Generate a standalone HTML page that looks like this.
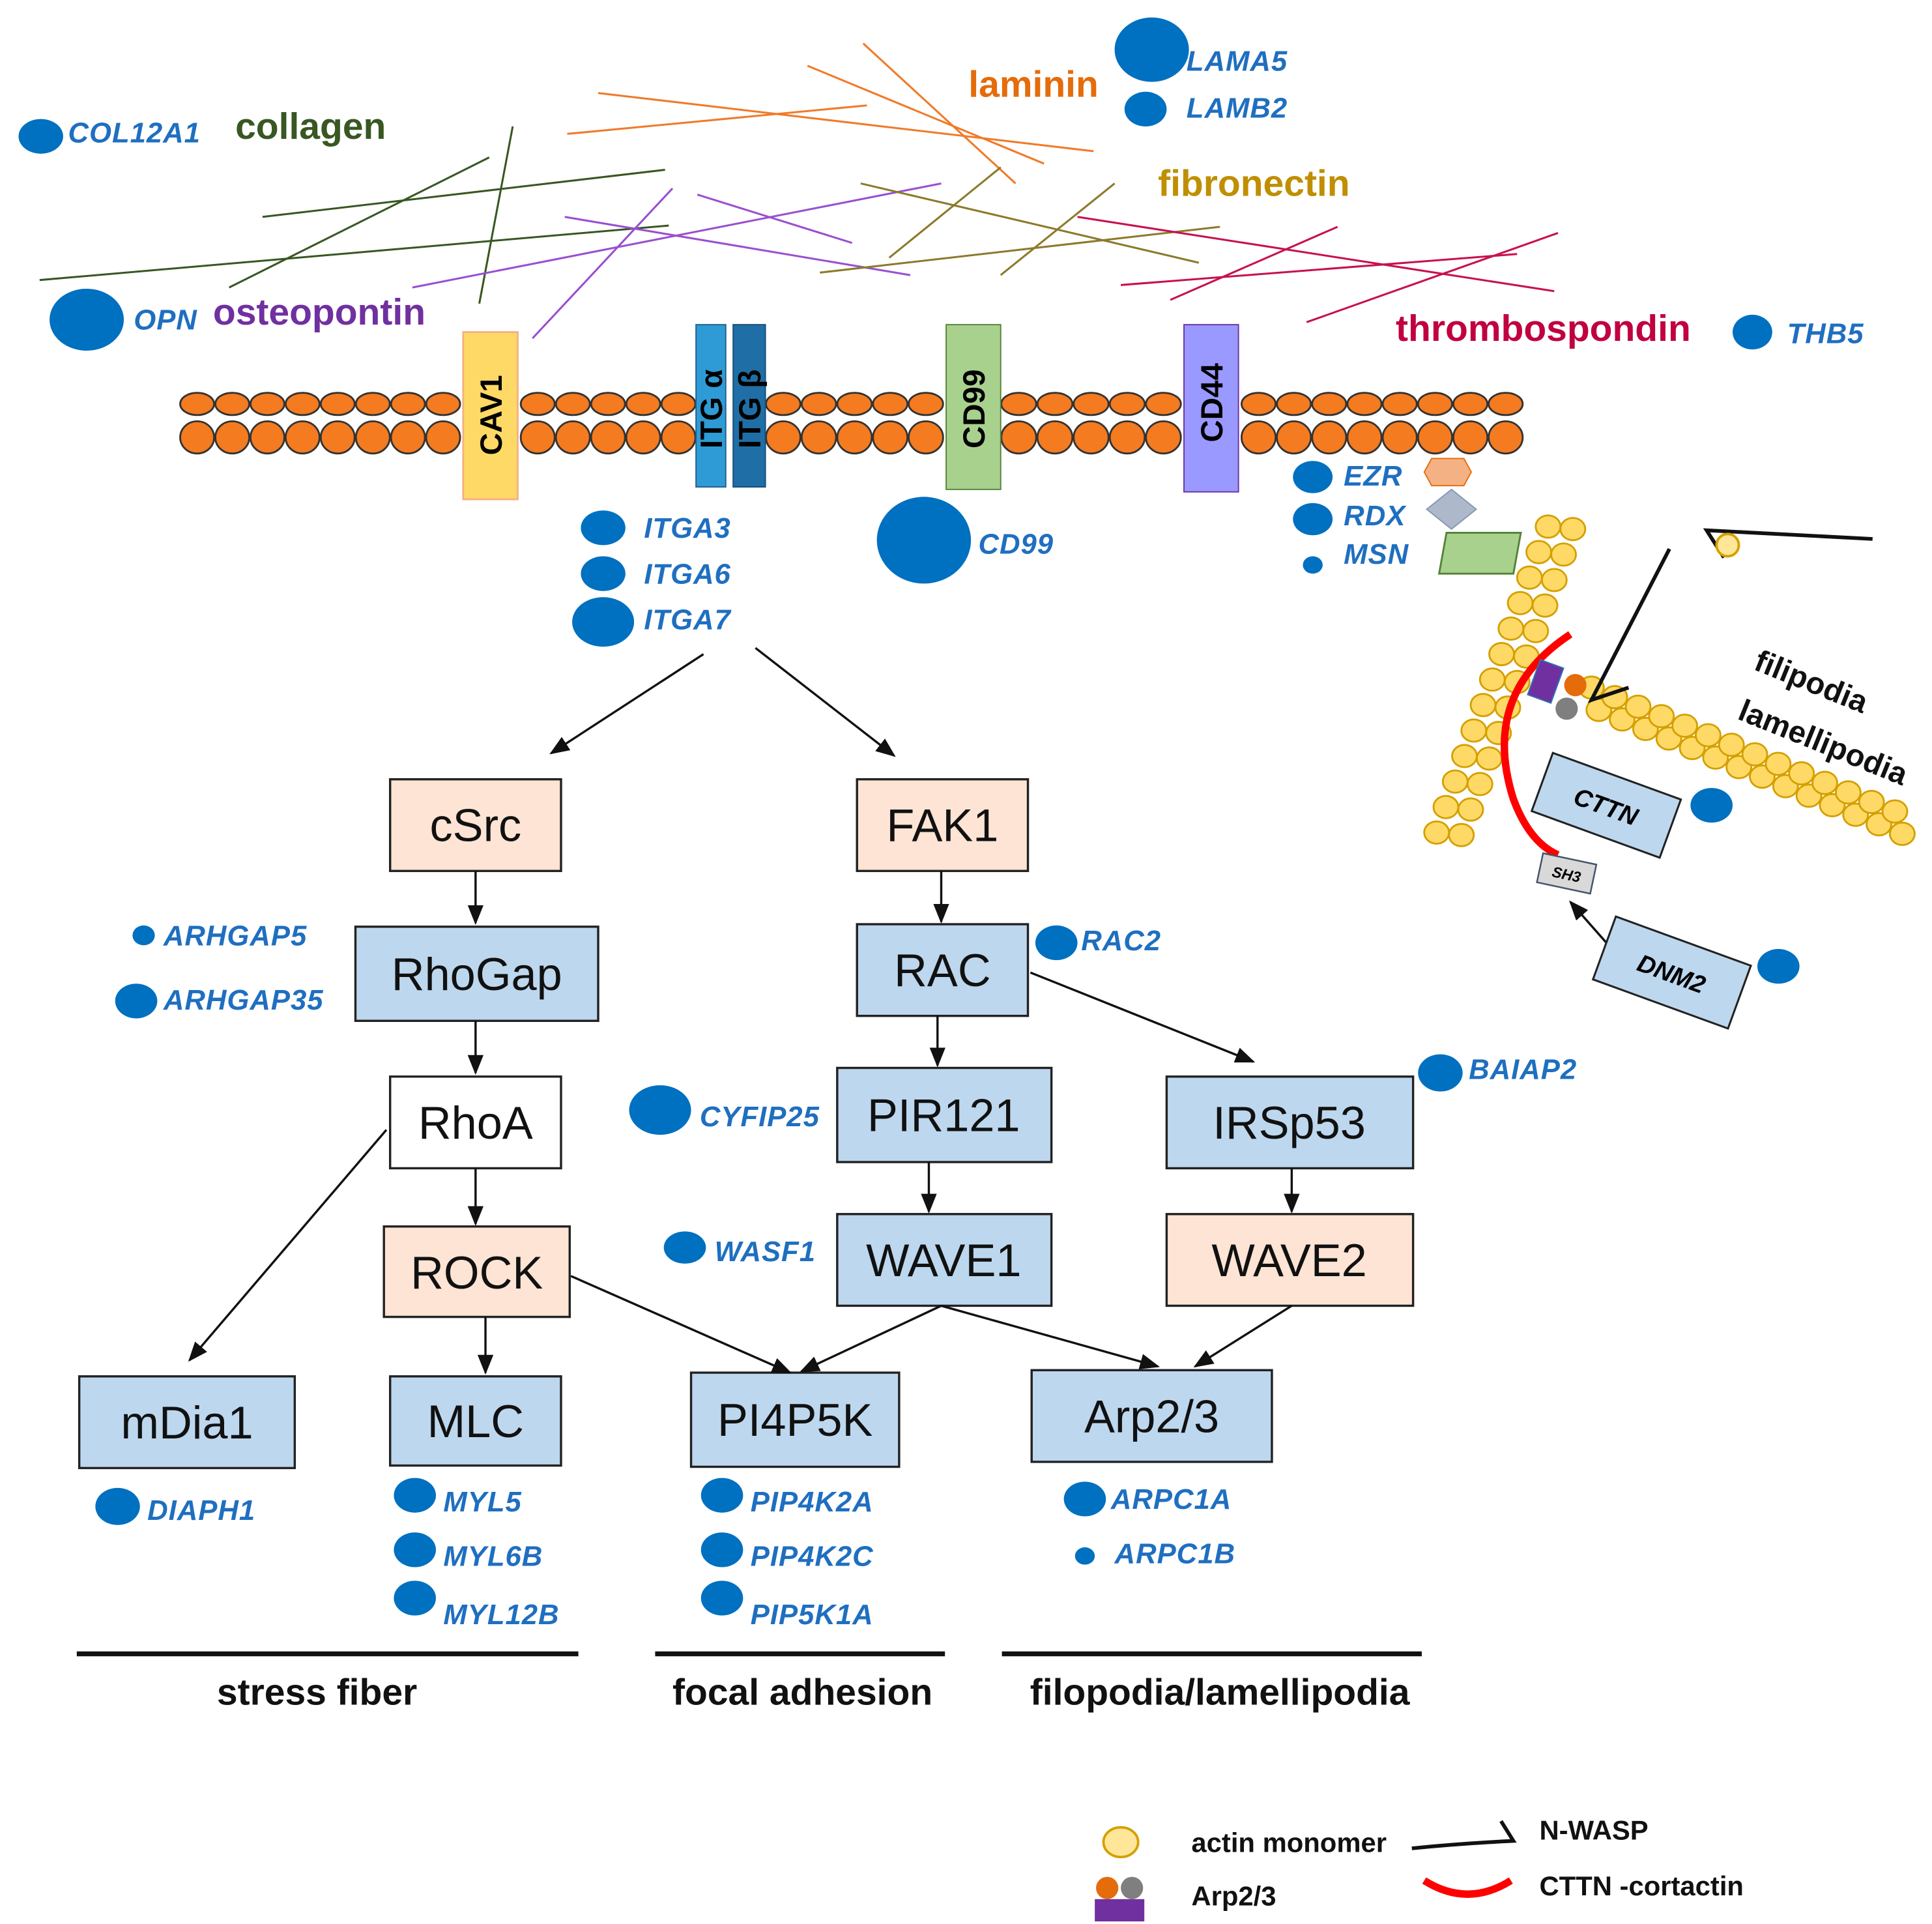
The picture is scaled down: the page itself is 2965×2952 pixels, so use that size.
<!DOCTYPE html>
<html><head><meta charset="utf-8"><style>
html,body{margin:0;padding:0;background:#fff}
svg{display:block}
.b{font-family:"Liberation Sans",sans-serif;font-size:37px;fill:#111;text-anchor:middle}
.g{font-family:"Liberation Sans",sans-serif;font-size:23px;font-style:italic;font-weight:bold;fill:#1f6fc0;letter-spacing:0.5px}
.e{font-family:"Liberation Sans",sans-serif;font-size:30px;font-weight:bold}
.l{font-family:"Liberation Sans",sans-serif;font-size:30px;font-weight:bold;fill:#111;text-anchor:middle}
.lg{font-family:"Liberation Sans",sans-serif;font-size:22px;font-weight:bold;fill:#111}
</style></head><body>
<svg id="s" width="2965" height="2952" viewBox="0 0 1560 1553" xmlns="http://www.w3.org/2000/svg">
<defs>
<marker id="m" viewBox="0 0 10 10" markerWidth="16" markerHeight="16" refX="9" refY="5" orient="auto" markerUnits="userSpaceOnUse"><path d="M0,1 L10,5 L0,9 z" fill="#111"/></marker></defs>
<g stroke-width="1.6" fill="none">
<g stroke="#385723"><line x1="212" y1="175" x2="537" y2="137"/><line x1="32" y1="226" x2="540" y2="182"/><line x1="185" y1="232" x2="395" y2="127"/><line x1="387" y1="245" x2="414" y2="102"/></g>
<g stroke="#f07a2a"><line x1="483" y1="75" x2="883" y2="122"/><line x1="458" y1="108" x2="700" y2="85"/><line x1="652" y1="53" x2="843" y2="132"/><line x1="697" y1="35" x2="820" y2="148"/></g>
<g stroke="#9a4fd0"><line x1="333" y1="232" x2="760" y2="148"/><line x1="430" y1="273" x2="543" y2="152"/><line x1="456" y1="175" x2="735" y2="222"/><line x1="563" y1="157" x2="688" y2="196"/></g>
<g stroke="#8b7a2a"><line x1="695" y1="148" x2="968" y2="212"/><line x1="718" y1="208" x2="808" y2="135"/><line x1="808" y1="222" x2="900" y2="148"/><line x1="662" y1="220" x2="985" y2="183"/></g>
<g stroke="#c8104f"><line x1="870" y1="175" x2="1255" y2="235"/><line x1="905" y1="230" x2="1225" y2="205"/><line x1="945" y1="242" x2="1080" y2="183"/><line x1="1055" y1="260" x2="1258" y2="188"/></g>
</g>
<text class="e" x="190" y="112" fill="#385723">collagen</text>
<text class="e" x="782" y="78" fill="#e46c0a">laminin</text>
<text class="e" x="935" y="158" fill="#bf8f00">fibronectin</text>
<text class="e" x="172" y="262" fill="#7030a0">osteopontin</text>
<text class="e" x="1127" y="275" fill="#c00040">thrombospondin</text>
<g id="mem"></g>
<rect x="374" y="268" width="44" height="135" fill="#ffd966" stroke="#f4b183" stroke-width="1.5"/>
<text transform="translate(405,335) rotate(-90)" font-family="Liberation Sans" font-weight="bold" font-size="25" text-anchor="middle">CAV1</text>
<rect x="562" y="262" width="24" height="131" fill="#2e9bd6" stroke="#1f5f8a"/>
<rect x="592" y="262" width="26" height="131" fill="#1f6fa6" stroke="#154d78"/>
<text transform="translate(583,330) rotate(-90)" font-family="Liberation Sans" font-weight="bold" font-size="25" text-anchor="middle">ITG α</text>
<text transform="translate(614,330) rotate(-90)" font-family="Liberation Sans" font-weight="bold" font-size="25" text-anchor="middle">ITG β</text>
<rect x="764" y="262" width="44" height="133" fill="#a9d18e" stroke="#548235"/>
<text transform="translate(795,330) rotate(-90)" font-family="Liberation Sans" font-weight="bold" font-size="25" text-anchor="middle">CD99</text>
<rect x="956" y="262" width="44" height="135" fill="#9999ff" stroke="#7030a0"/>
<text transform="translate(987,325) rotate(-90)" font-family="Liberation Sans" font-weight="bold" font-size="25" text-anchor="middle">CD44</text>
<g fill="#0070c0">
<ellipse cx="33" cy="110" rx="18" ry="14"/><ellipse cx="930" cy="40" rx="30" ry="26"/><ellipse cx="925" cy="88" rx="17" ry="14"/>
<ellipse cx="70" cy="258" rx="30" ry="25"/><ellipse cx="1415" cy="268" rx="16" ry="14"/>
<ellipse cx="487" cy="426" rx="18" ry="14"/><ellipse cx="487" cy="463" rx="18" ry="14"/><ellipse cx="487" cy="502" rx="25" ry="20"/>
<ellipse cx="746" cy="436" rx="38" ry="35"/>
<ellipse cx="1060" cy="385" rx="16" ry="13"/><ellipse cx="1060" cy="419" rx="16" ry="13"/><ellipse cx="1060" cy="456" rx="8" ry="7"/>
<ellipse cx="116" cy="755" rx="9" ry="8"/><ellipse cx="110" cy="808" rx="17" ry="14"/>
<ellipse cx="853" cy="761" rx="17" ry="14"/><ellipse cx="1163" cy="866" rx="18" ry="15"/>
<ellipse cx="533" cy="896" rx="25" ry="20"/><ellipse cx="553" cy="1007" rx="17" ry="13"/>
<ellipse cx="95" cy="1216" rx="18" ry="15"/>
<ellipse cx="335" cy="1207" rx="17" ry="14"/><ellipse cx="335" cy="1251" rx="17" ry="14"/><ellipse cx="335" cy="1290" rx="17" ry="14"/>
<ellipse cx="583" cy="1207" rx="17" ry="14"/><ellipse cx="583" cy="1251" rx="17" ry="14"/><ellipse cx="583" cy="1290" rx="17" ry="14"/>
<ellipse cx="876" cy="1210" rx="17" ry="14"/><ellipse cx="876" cy="1256" rx="8" ry="7"/>
<ellipse cx="1382" cy="650" rx="17" ry="14"/><ellipse cx="1436" cy="780" rx="17" ry="14"/>
</g>
<g>
<text class="g" x="55" y="115">COL12A1</text><text class="g" x="958" y="57">LAMA5</text><text class="g" x="958" y="95">LAMB2</text>
<text class="g" x="108" y="266">OPN</text><text class="g" x="1443" y="277">THB5</text>
<text class="g" x="520" y="434">ITGA3</text><text class="g" x="520" y="471">ITGA6</text><text class="g" x="520" y="508">ITGA7</text>
<text class="g" x="790" y="447">CD99</text>
<text class="g" x="1085" y="392">EZR</text><text class="g" x="1085" y="424">RDX</text><text class="g" x="1085" y="455">MSN</text>
<text class="g" x="132" y="763">ARHGAP5</text><text class="g" x="132" y="815">ARHGAP35</text>
<text class="g" x="873" y="767">RAC2</text><text class="g" x="1186" y="871">BAIAP2</text>
<text class="g" x="565" y="909">CYFIP25</text><text class="g" x="577" y="1018">WASF1</text>
<text class="g" x="119" y="1227">DIAPH1</text>
<text class="g" x="358" y="1220">MYL5</text><text class="g" x="358" y="1264">MYL6B</text><text class="g" x="358" y="1311">MYL12B</text>
<text class="g" x="606" y="1220">PIP4K2A</text><text class="g" x="606" y="1264">PIP4K2C</text><text class="g" x="606" y="1311">PIP5K1A</text>
<text class="g" x="897" y="1218">ARPC1A</text><text class="g" x="900" y="1262">ARPC1B</text>
</g>
<g stroke="#222" stroke-width="1.8">
<rect x="315" y="629" width="138" height="74" fill="#fde4d4"/>
<rect x="692" y="629" width="138" height="74" fill="#fde4d4"/>
<rect x="287" y="748" width="196" height="76" fill="#bdd7ee"/>
<rect x="692" y="746" width="138" height="74" fill="#bdd7ee"/>
<rect x="315" y="869" width="138" height="74" fill="#fff"/>
<rect x="676" y="862" width="173" height="76" fill="#bdd7ee"/>
<rect x="942" y="869" width="199" height="74" fill="#bdd7ee"/>
<rect x="310" y="990" width="150" height="73" fill="#fde4d4"/>
<rect x="676" y="980" width="173" height="74" fill="#bdd7ee"/>
<rect x="942" y="980" width="199" height="74" fill="#fde4d4"/>
<rect x="64" y="1111" width="174" height="74" fill="#bdd7ee"/>
<rect x="315" y="1111" width="138" height="72" fill="#bdd7ee"/>
<rect x="558" y="1108" width="168" height="76" fill="#bdd7ee"/>
<rect x="833" y="1106" width="194" height="74" fill="#bdd7ee"/>
</g>
<text class="b" x="384" y="679">cSrc</text><text class="b" x="761" y="679">FAK1</text>
<text class="b" x="385" y="799">RhoGap</text><text class="b" x="761" y="796">RAC</text>
<text class="b" x="384" y="919">RhoA</text><text class="b" x="762" y="913">PIR121</text><text class="b" x="1041" y="919">IRSp53</text>
<text class="b" x="385" y="1040">ROCK</text><text class="b" x="762" y="1030">WAVE1</text><text class="b" x="1041" y="1030">WAVE2</text>
<text class="b" x="151" y="1161">mDia1</text><text class="b" x="384" y="1160">MLC</text><text class="b" x="642" y="1159">PI4P5K</text><text class="b" x="930" y="1156">Arp2/3</text>
<g stroke="#111" stroke-width="1.8" marker-end="url(#m)">
<line x1="568" y1="528" x2="445" y2="608"/><line x1="610" y1="523" x2="722" y2="610"/>
<line x1="384" y1="703" x2="384" y2="745"/><line x1="760" y1="703" x2="760" y2="744"/>
<line x1="384" y1="824" x2="384" y2="866"/><line x1="757" y1="820" x2="757" y2="860"/>
<line x1="832" y1="785" x2="1012" y2="857"/><line x1="750" y1="938" x2="750" y2="978"/>
<line x1="1043" y1="943" x2="1043" y2="978"/><line x1="384" y1="943" x2="384" y2="988"/>
<line x1="312" y1="912" x2="153" y2="1098"/><line x1="392" y1="1063" x2="392" y2="1108"/>
<line x1="461" y1="1030" x2="638" y2="1108"/><line x1="760" y1="1054" x2="647" y2="1107"/>
<line x1="760" y1="1054" x2="935" y2="1103"/><line x1="1043" y1="1054" x2="965" y2="1103"/>
<line x1="1298" y1="762" x2="1268" y2="728"/>
</g>
<g stroke="#111" stroke-width="4"><line x1="62" y1="1335" x2="467" y2="1335"/><line x1="529" y1="1335" x2="763" y2="1335"/><line x1="809" y1="1335" x2="1148" y2="1335"/></g>
<text class="l" x="256" y="1376">stress fiber</text><text class="l" x="648" y="1376">focal adhesion</text><text class="l" x="985" y="1376">filopodia/lamellipodia</text>
<polygon points="1156,370 1182,370 1188,381 1182,392 1156,392 1150,381" fill="#f4b183" stroke="#e46c0a"/>
<polygon points="1172,395 1192,411 1172,427 1152,411" fill="#adb9ca" stroke="#8497b0"/>
<polygon points="1168,430 1228,430 1222,463 1162,463" fill="#a9d18e" stroke="#548235" stroke-width="1.5"/>
<g id="actin"></g>
<path d="M1268,512 Q1195,560 1222,645 Q1235,680 1258,690" fill="none" stroke="#ff0000" stroke-width="6"/>
<rect x="1238" y="535" width="20" height="30" fill="#7030a0" stroke="#2e75b6" transform="rotate(20 1248 550)"/>
<circle cx="1272" cy="553" r="9" fill="#e46c0a"/><circle cx="1265" cy="572" r="9" fill="#7f7f7f"/>
<path d="M1348,443 L1285,565 L1315,555" fill="none" stroke="#111" stroke-width="3"/>
<path d="M1512,435 L1378,428 L1392,450" fill="none" stroke="#111" stroke-width="3"/>
<circle cx="1395" cy="440" r="9" fill="#ffe699" stroke="#d4a000" stroke-width="2"/>
<g transform="translate(1297,650) rotate(20)"><rect x="-55" y="-25" width="110" height="50" fill="#bdd7ee" stroke="#222" stroke-width="1.6"/><text x="0" y="8" font-family="Liberation Sans" font-size="20" font-weight="bold" font-style="italic" text-anchor="middle">CTTN</text></g>
<g transform="translate(1265,705) rotate(12)"><rect x="-22" y="-12" width="44" height="24" fill="#d9d9d9" stroke="#44546a" stroke-width="1.3"/><text x="0" y="5" font-family="Liberation Sans" font-size="12" font-style="italic" font-weight="bold" text-anchor="middle">SH3</text></g>
<g transform="translate(1350,785) rotate(20)"><rect x="-58" y="-27" width="116" height="54" fill="#bdd7ee" stroke="#222" stroke-width="1.6"/><text x="0" y="8" font-family="Liberation Sans" font-size="20" font-weight="bold" font-style="italic" text-anchor="middle">DNM2</text></g>
<text transform="translate(1415,540) rotate(22)" font-family="Liberation Sans" font-size="25" font-weight="bold" fill="#111">filipodia</text>
<text transform="translate(1402,580) rotate(22)" font-family="Liberation Sans" font-size="25" font-weight="bold" fill="#111">lamellipodia</text>
<ellipse cx="905" cy="1487" rx="14" ry="12" fill="#ffe699" stroke="#d4a000" stroke-width="2"/>
<text class="lg" x="962" y="1495">actin monomer</text>
<path d="M1140,1492 Q1180,1488 1222,1486 L1212,1470" fill="none" stroke="#111" stroke-width="3"/>
<text class="lg" x="1243" y="1485">N-WASP</text>
<circle cx="894" cy="1524" r="9" fill="#e46c0a"/><circle cx="914" cy="1524" r="9" fill="#7f7f7f"/>
<rect x="884" y="1533" width="40" height="18" fill="#7030a0"/>
<text class="lg" x="962" y="1538">Arp2/3</text>
<path d="M1150,1518 Q1185,1540 1220,1518" fill="none" stroke="#ff0000" stroke-width="6"/>
<text class="lg" x="1243" y="1530">CTTN -cortactin</text>
</svg>
<script>
var NS="http://www.w3.org/2000/svg";
function c(g,x,y,rx,ry,f,s){var e=document.createElementNS(NS,"ellipse");e.setAttribute("cx",x);e.setAttribute("cy",y);e.setAttribute("rx",rx);e.setAttribute("ry",ry);e.setAttribute("fill",f);e.setAttribute("stroke",s);e.setAttribute("stroke-width","1.5");g.appendChild(e);}
var m=document.getElementById("mem");
var segs=[[145,372],[420,562],[618,762],[808,954],[1002,1230]];
segs.forEach(function(s){var n=Math.round((s[1]-s[0])/28);var w=(s[1]-s[0])/n;for(var i=0;i<n;i++){var x=s[0]+w*(i+0.5);c(m,x,326,w/2-0.5,9,"#f47b20","#333");c(m,x,353,w/2-0.5,13,"#f47b20","#333");}});
var a=document.getElementById("actin");
for(var i=0;i<13;i++){var t=i/12;var x=1250+(1160-1250)*t,y=425+(672-425)*t;c(a,x,y,10,9,"#ffd966","#d4a000");c(a,x+20,y+2,10,9,"#ffd966","#d4a000");}
for(var i=0;i<14;i++){var t=i/13;var x=1285+(1530-1285)*t,y=555+(655-555)*t;c(a,x,y,10,9,"#ffd966","#d4a000");c(a,x+6,y+18,10,9,"#ffd966","#d4a000");}
</script>
</body></html>
